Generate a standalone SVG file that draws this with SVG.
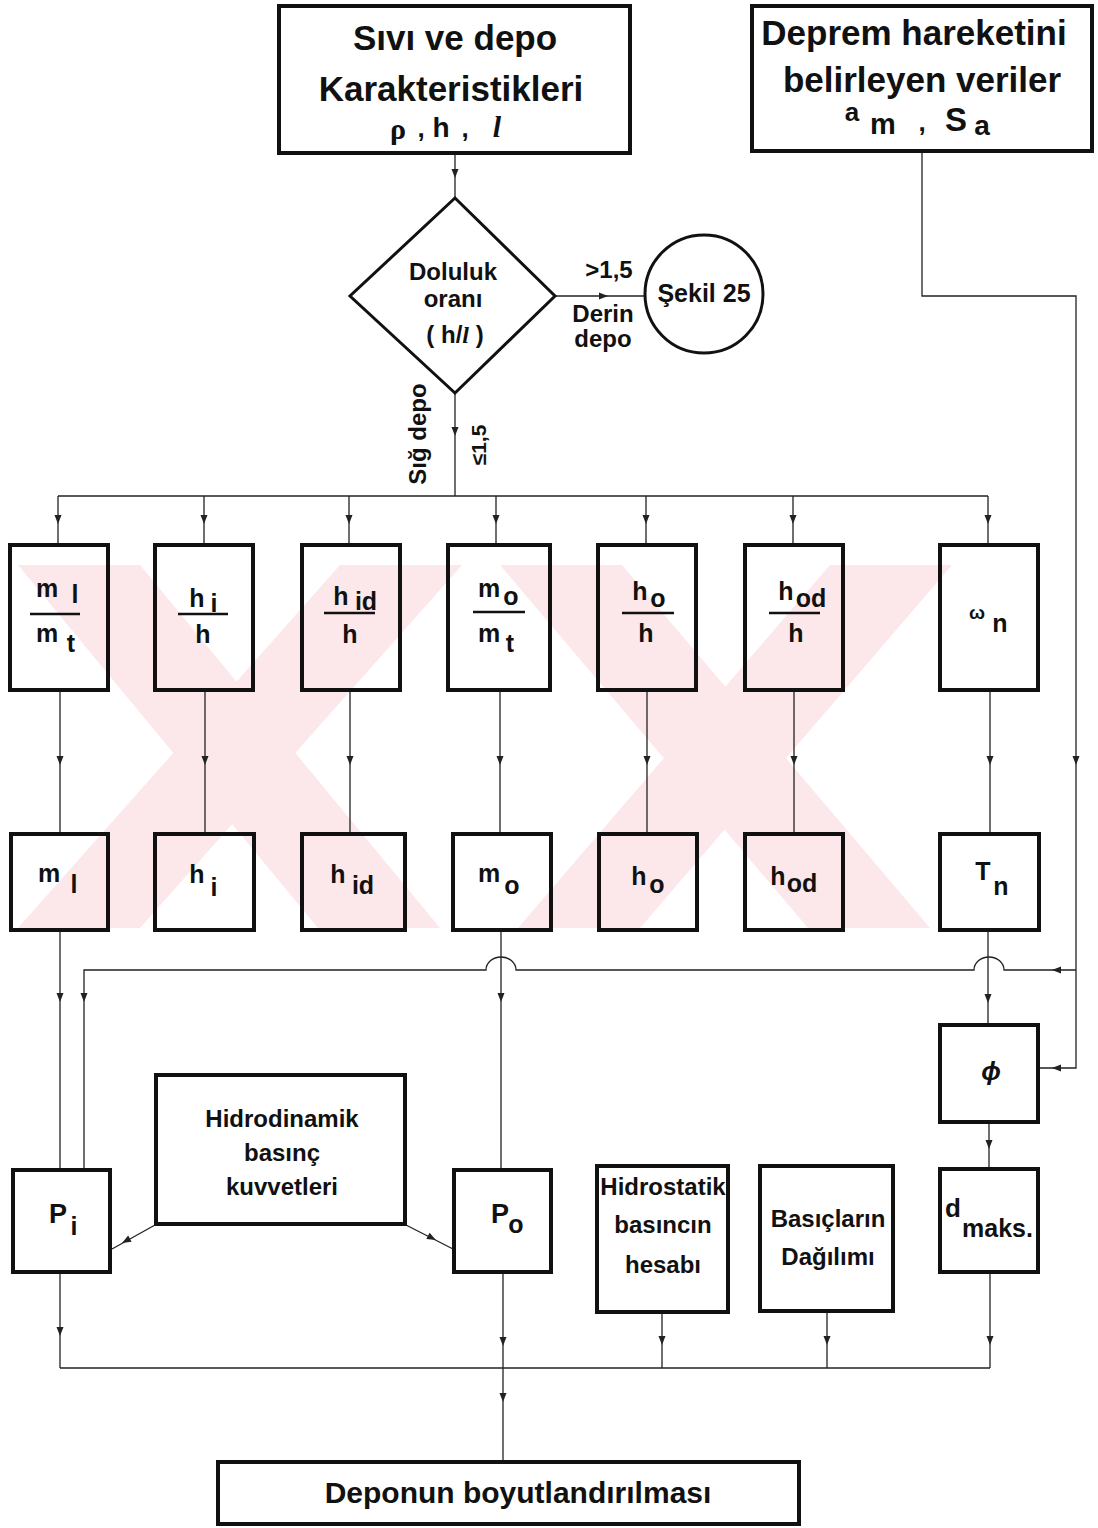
<svg xmlns="http://www.w3.org/2000/svg" width="1098" height="1528" viewBox="0 0 1098 1528">
<style>
.bx{fill:none;stroke:#111;stroke-width:4}
.sh{fill:none;stroke:#111;stroke-width:3}
.cn{fill:none;stroke:#222;stroke-width:1.3}
.fl{stroke:#111;stroke-width:2.6}
text{font-family:"Liberation Sans",Arial,sans-serif;font-weight:bold;fill:#111}
.t34{font-size:35px;text-anchor:middle}
.t24{font-size:24px;text-anchor:middle}
.v{font-size:25px;text-anchor:middle}
.gr{font-family:"Liberation Serif",serif}
</style>
<defs>
<path id="ah" d="M0,0 L-3.5,-9 L3.5,-9 Z" fill="#222"/>
</defs>
<rect width="1098" height="1528" fill="#fff"/>
<g id="watermark" opacity="0.32" fill="#f6b8c4">
<polygon points="18,565 140,565 440,928 318,928"/>
<polygon points="340,565 462,565 140,928 18,928"/>
<polygon points="500,565 622,565 930,928 808,928"/>
<polygon points="830,565 952,565 640,928 518,928"/>
</g>
<g id="connectors">
<path class="cn" d="M455,153 V198"/>
<use href="#ah" transform="translate(455,178)"/>
<path class="cn" d="M555,296 H645"/>
<use href="#ah" transform="translate(608,296) rotate(-90)"/>
<path class="cn" d="M455,393 V496"/>
<use href="#ah" transform="translate(455,436)"/>
<path class="cn" d="M58,496 H988"/>
<path class="cn" d="M58,496 V545 M204,496 V545 M349,496 V545 M496,496 V545 M646,496 V545 M793,496 V545 M988,496 V545"/>
<use href="#ah" transform="translate(58,524)"/>
<use href="#ah" transform="translate(204,524)"/>
<use href="#ah" transform="translate(349,524)"/>
<use href="#ah" transform="translate(496,524)"/>
<use href="#ah" transform="translate(646,524)"/>
<use href="#ah" transform="translate(793,524)"/>
<use href="#ah" transform="translate(988,524)"/>
<path class="cn" d="M60,691 V833 M205,691 V833 M350,691 V833 M500,691 V833 M647,691 V833 M794,691 V833 M990,691 V833"/>
<use href="#ah" transform="translate(60,765)"/>
<use href="#ah" transform="translate(205,765)"/>
<use href="#ah" transform="translate(350,765)"/>
<use href="#ah" transform="translate(500,765)"/>
<use href="#ah" transform="translate(647,765)"/>
<use href="#ah" transform="translate(794,765)"/>
<use href="#ah" transform="translate(990,765)"/>
<path class="cn" d="M922,152 V296 H1076 V1068 H1040"/>
<use href="#ah" transform="translate(1076,765)"/>
<use href="#ah" transform="translate(1052,1068) rotate(90)"/>
<path class="cn" d="M1076,970 H1004 A15,13 0 0 0 974,970 H516 A15,13 0 0 0 486,970 H84 V1169"/>
<use href="#ah" transform="translate(1052,970) rotate(90)"/>
<use href="#ah" transform="translate(84,1002)"/>
<path class="cn" d="M60,930 V1169"/>
<use href="#ah" transform="translate(60,1002)"/>
<path class="cn" d="M501,930 V1169"/>
<use href="#ah" transform="translate(501,1002)"/>
<path class="cn" d="M988,930 V1025"/>
<use href="#ah" transform="translate(988,1003)"/>
<path class="cn" d="M989,1123 V1168"/>
<use href="#ah" transform="translate(989,1149)"/>
<path class="cn" d="M155,1225 L112,1249"/>
<use href="#ah" transform="translate(122,1243) rotate(61)"/>
<path class="cn" d="M406,1225 L453,1249"/>
<use href="#ah" transform="translate(436,1240) rotate(-63)"/>
<path class="cn" d="M60,1273 V1368"/>
<use href="#ah" transform="translate(60,1336)"/>
<path class="cn" d="M503,1273 V1462"/>
<use href="#ah" transform="translate(503,1346)"/>
<use href="#ah" transform="translate(503,1402)"/>
<path class="cn" d="M662,1313 V1368"/>
<use href="#ah" transform="translate(662,1345)"/>
<path class="cn" d="M827,1312 V1368"/>
<use href="#ah" transform="translate(827,1345)"/>
<path class="cn" d="M990,1273 V1368"/>
<use href="#ah" transform="translate(990,1345)"/>
<path class="cn" d="M60,1368 H990"/>
</g>
<g id="n-sivi">
<rect class="bx" x="279" y="6" width="351" height="147"/>
<text class="t34" x="455" y="50">Sıvı ve depo</text>
<text class="t34" x="451" y="101">Karakteristikleri</text>
<text class="gr" x="398" y="139" style="font-size:30px;text-anchor:middle">ρ</text>
<text x="421" y="137" style="font-size:26px;text-anchor:middle">,</text>
<text x="441" y="137" style="font-size:28px;text-anchor:middle">h</text>
<text x="465" y="137" style="font-size:26px;text-anchor:middle">,</text>
<text class="gr" x="497" y="137" style="font-size:30px;text-anchor:middle;font-style:italic">l</text>
</g>
<g id="n-deprem">
<rect class="bx" x="752" y="6" width="340" height="145"/>
<text class="t34" x="914" y="45">Deprem hareketini</text>
<text class="t34" x="922" y="92">belirleyen veriler</text>
<text x="852" y="121" style="font-size:26px;text-anchor:middle">a</text>
<text x="883" y="134" style="font-size:29px;text-anchor:middle">m</text>
<text x="922" y="131" style="font-size:26px;text-anchor:middle">,</text>
<text x="956" y="131" style="font-size:33px;text-anchor:middle">S</text>
<text x="982" y="135" style="font-size:28px;text-anchor:middle">a</text>
</g>
<g id="n-doluluk">
<polygon class="sh" points="455,198 555,296 455,393 350,296"/>
<text class="t24" x="453" y="280">Doluluk</text>
<text class="t24" x="453" y="307">oranı</text>
<text class="t24" x="455" y="343">( h/<tspan style="font-family:'Liberation Serif',serif;font-style:italic">l</tspan> )</text>
</g>
<g id="n-sekil">
<circle class="sh" cx="704" cy="294" r="59"/>
<text x="704" y="302" style="font-size:25px;text-anchor:middle">Şekil 25</text>
</g>
<g id="labels">
<text class="t24" x="609" y="278">&gt;1,5</text>
<text class="t24" x="603" y="322">Derin</text>
<text class="t24" x="603" y="347">depo</text>
<text class="t24" transform="translate(426,434) rotate(-90)">Sığ depo</text>
<text transform="translate(486,445) rotate(-90)" style="font-size:21px;text-anchor:middle">≤1,5</text>
</g>
<g id="n-ml-mt">
<rect class="bx" x="10" y="545" width="98" height="145"/>
<text class="v" x="47" y="597">m</text><text class="v" x="75" y="603">l</text>
<line class="fl" x1="30" y1="614" x2="80" y2="614"/>
<text class="v" x="47" y="642">m</text><text class="v" x="71" y="652">t</text>
</g>
<g id="n-hi-h">
<rect class="bx" x="155" y="545" width="98" height="145"/>
<text class="v" x="197" y="607">h</text><text class="v" x="214" y="612">i</text>
<line class="fl" x1="178" y1="614" x2="228" y2="614"/>
<text class="v" x="203" y="643">h</text>
</g>
<g id="n-hid-h">
<rect class="bx" x="302" y="545" width="98" height="145"/>
<text class="v" x="341" y="605">h</text><text class="v" x="366" y="610">id</text>
<line class="fl" x1="324" y1="613" x2="375" y2="613"/>
<text class="v" x="350" y="643">h</text>
</g>
<g id="n-mo-mt">
<rect class="bx" x="448" y="545" width="102" height="145"/>
<text class="v" x="489" y="597">m</text><text class="v" x="511" y="605">o</text>
<line class="fl" x1="473" y1="612" x2="525" y2="612"/>
<text class="v" x="489" y="642">m</text><text class="v" x="510" y="652">t</text>
</g>
<g id="n-ho-h">
<rect class="bx" x="598" y="545" width="98" height="145"/>
<text class="v" x="640" y="600">h</text><text class="v" x="658" y="607">o</text>
<line class="fl" x1="622" y1="613" x2="674" y2="613"/>
<text class="v" x="646" y="642">h</text>
</g>
<g id="n-hod-h">
<rect class="bx" x="745" y="545" width="98" height="145"/>
<text class="v" x="786" y="600">h</text><text class="v" x="811" y="607">od</text>
<line class="fl" x1="769" y1="613" x2="820" y2="613"/>
<text class="v" x="796" y="642">h</text>
</g>
<g id="n-omega">
<rect class="bx" x="940" y="545" width="98" height="145"/>
<text x="977" y="619" style="font-size:19px;text-anchor:middle">ω</text>
<text class="v" x="1000" y="632">n</text>
</g>
<g id="n-ml">
<rect class="bx" x="11" y="834" width="97" height="96"/>
<text class="v" x="49" y="882">m</text><text class="v" x="74" y="893">l</text>
</g>
<g id="n-hi">
<rect class="bx" x="155" y="834" width="99" height="96"/>
<text class="v" x="197" y="883">h</text><text class="v" x="214" y="896">i</text>
</g>
<g id="n-hid">
<rect class="bx" x="302" y="834" width="103" height="96"/>
<text class="v" x="338" y="883">h</text><text class="v" x="363" y="894">id</text>
</g>
<g id="n-mo">
<rect class="bx" x="453" y="834" width="98" height="96"/>
<text class="v" x="489" y="882">m</text><text class="v" x="512" y="894">o</text>
</g>
<g id="n-ho">
<rect class="bx" x="599" y="834" width="98" height="96"/>
<text class="v" x="639" y="885">h</text><text class="v" x="657" y="893">o</text>
</g>
<g id="n-hod">
<rect class="bx" x="745" y="834" width="98" height="96"/>
<text class="v" x="778" y="885">h</text><text class="v" x="802" y="892">od</text>
</g>
<g id="n-tn">
<rect class="bx" x="940" y="834" width="99" height="96"/>
<text class="v" x="983" y="880">T</text><text class="v" x="1001" y="895">n</text>
</g>
<g id="n-phi">
<rect class="bx" x="940" y="1025" width="98" height="97"/>
<text x="991" y="1080" style="font-size:26px;text-anchor:middle;font-style:italic">ϕ</text>
</g>
<g id="n-dmaks">
<rect class="bx" x="940" y="1169" width="98" height="103"/>
<text x="953" y="1217" style="font-size:26px;text-anchor:middle">d</text>
<text x="962" y="1237" style="font-size:25px">maks.</text>
</g>
<g id="n-hidrodinamik">
<rect class="bx" x="156" y="1075" width="249" height="149"/>
<text class="t24" x="282" y="1127">Hidrodinamik</text>
<text class="t24" x="282" y="1161">basınç</text>
<text class="t24" x="282" y="1195">kuvvetleri</text>
</g>
<g id="n-pi">
<rect class="bx" x="13" y="1170" width="97" height="102"/>
<text x="58" y="1223" style="font-size:27px;text-anchor:middle">P</text>
<text x="74" y="1235" style="font-size:25px;text-anchor:middle">i</text>
</g>
<g id="n-po">
<rect class="bx" x="454" y="1170" width="97" height="102"/>
<text x="500" y="1223" style="font-size:27px;text-anchor:middle">P</text>
<text x="516" y="1233" style="font-size:25px;text-anchor:middle">o</text>
</g>
<g id="n-hidrostatik">
<rect class="bx" x="597" y="1166" width="131" height="146"/>
<text class="t24" x="663" y="1195">Hidrostatik</text>
<text class="t24" x="663" y="1233">basıncın</text>
<text class="t24" x="663" y="1273">hesabı</text>
</g>
<g id="n-basiclar">
<rect class="bx" x="760" y="1166" width="133" height="145"/>
<text class="t24" x="828" y="1227">Basıçların</text>
<text class="t24" x="828" y="1265">Dağılımı</text>
</g>
<g id="n-deponun">
<rect class="bx" x="218" y="1462" width="581" height="62"/>
<text x="518" y="1503" style="font-size:30px;text-anchor:middle">Deponun boyutlandırılması</text>
</g>
</svg>
